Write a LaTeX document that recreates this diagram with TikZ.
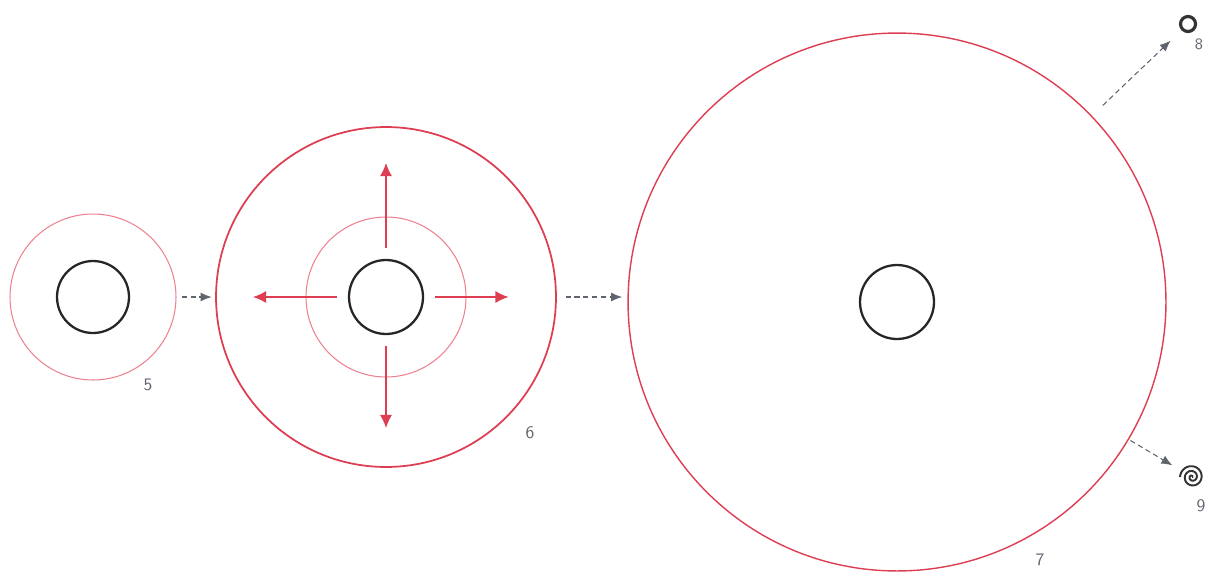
\documentclass[tikz,border=0pt]{standalone}
\usepackage{tikz}
\usetikzlibrary{arrows.meta,positioning,calc}

\definecolor{cellred}{RGB}{222,62,82}
\definecolor{cellpink}{RGB}{236,130,145}
\definecolor{pencil}{RGB}{95,100,110}

\tikzset{
  ring/.style={circle,draw,inner sep=0pt,minimum size=#1},
  nucleus/.style={ring=#1,draw=black!85,line width=1.3pt},
  flow/.style={-{Latex[length=2.2mm,width=1.8mm]},pencil,densely dashed,line width=0.6pt},
  spread/.style={-{Latex[length=2.6mm,width=2.4mm]},cellred,line width=0.7pt},
  tag/.style={font=\sffamily,text=pencil}
}

\begin{document}
\begin{tikzpicture}[x=0.02cm,y=-0.02cm]
\useasboundingbox (0,0) rectangle (1212,575);

% stage 5
\node[ring=3.32cm,draw=cellpink,line width=0.6pt] (c5) at (93,297) {};
\node[nucleus=1.44cm] (k5) at (93,297) {};
\node[tag] (t5) at (148,385) {5};

% stage 6
\node[ring=6.8cm,draw=cellred,line width=1pt] (c6) at (386,297) {};
\node[ring=3.2cm,draw=cellpink,line width=0.6pt] (m6) at (386,297) {};
\node[nucleus=1.48cm] (k6) at (386,297) {};
\node[tag] (t6) at (530,433) {6};
\foreach \a/\r in {0/2.45cm,90/2.68cm,180/2.66cm,270/2.62cm}{
  \draw[spread] ($(k6.center)+(\a:0.98cm)$) -- ($(k6.center)+(\a:\r)$);
}

% stage 7
\node[ring=10.76cm,draw=cellred,line width=0.8pt] (c7) at (897,302) {};
\node[nucleus=1.48cm] (k7) at (897,302) {};
\node[tag] (t7) at (1040,560) {7};

% small ends: 8 and 9
\node[ring=0.3cm,draw=black!80,line width=1.8pt] (n8) at (1188,24) {};
\node[tag,font=\sffamily\small] (t8) at (1199,44) {8};
\node[circle,inner sep=0pt,minimum size=0.5cm] (n9) at (1192,477) {};
\draw[black!80,line width=1.1pt,shift={(n9.center)}]
  plot[domain=0:900,samples=90,smooth] ({\x/900*0.24cm*cos(\x)},{\x/900*0.24cm*sin(\x)});
\node[tag] (t9) at (1201,506) {9};

% growth arrows
\draw[flow,shorten <=3pt,shorten >=2pt] (c5) -- (c6);
\draw[flow,shorten <=5pt,shorten >=3pt] (c6.east) -- (c6.east -| c7.west);
\draw[flow,shorten <=0.3cm,shorten >=0.3cm] (c7) -- (n8);
\draw[flow,shorten <=1pt,shorten >=0.2cm] (c7) -- (n9);
\end{tikzpicture}
\end{document}
